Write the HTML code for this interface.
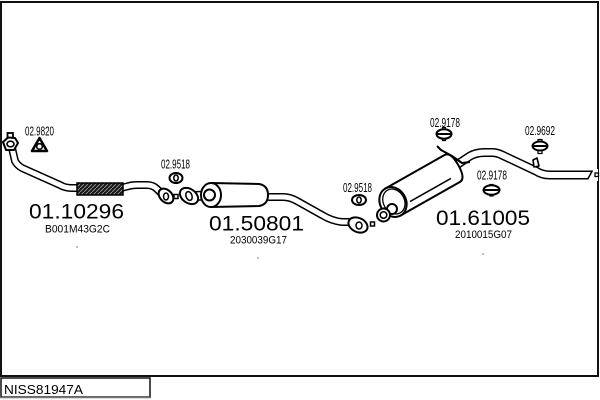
<!DOCTYPE html>
<html><head><meta charset="utf-8"><style>
html,body{margin:0;padding:0;background:#fff;}
svg{display:block;}
text{font-family:"Liberation Sans",Arial,sans-serif;fill:#000;}
</style></head><body>
<svg width="600" height="400" viewBox="0 0 600 400" xmlns="http://www.w3.org/2000/svg">
<defs>
<pattern id="flex" width="4" height="4" patternUnits="userSpaceOnUse">
<rect width="4" height="4" fill="#1a1a1a"/>
<path d="M0,4 L4,0" stroke="#9a9a9a" stroke-width="0.8"/>
</pattern>
</defs>

<!-- frame -->
<rect x="1" y="2" width="597" height="374" fill="none" stroke="#111" stroke-width="2"/>
<rect x="1" y="378" width="149" height="19" fill="#fff" stroke="#111" stroke-width="1.5"/>
<line x1="0" y1="397.5" x2="151" y2="397.5" stroke="#777" stroke-width="1.5"/>
<text x="4" y="394" font-size="13" textLength="79" lengthAdjust="spacingAndGlyphs">NISS81947A</text>

<g fill="none" stroke-linecap="butt" stroke-linejoin="round">
<!-- part 1 pipe -->
<path d="M12,148 L15,161 Q17,165 22,168 L60,185 Q65,188 72,188 L80,188" stroke="#000" stroke-width="8"/>
<path d="M12,148 L15,161 Q17,165 22,168 L60,185 Q65,188 72,188 L80,188" stroke="#fff" stroke-width="5"/>
<path d="M121,188 L131,185.5 Q134,185 138,185 L147,185 Q153,185 157,189 L164,196" stroke="#000" stroke-width="8"/>
<path d="M121,188 L131,185.5 Q134,185 138,185 L147,185 Q153,185 157,189 L164,196" stroke="#fff" stroke-width="5"/>
</g>
<rect x="77" y="183" width="46" height="12" fill="url(#flex)" stroke="#000" stroke-width="1.5"/>

<!-- part 1 left flange -->
<rect x="7.5" y="133" width="5.5" height="5" fill="#fff" stroke="#000" stroke-width="1.8"/>
<path d="M3,142 L8,137.5 L15,138 L18,143 L14,150 L6,150 Z" fill="#fff" stroke="#000" stroke-width="2" stroke-linejoin="round"/>
<ellipse cx="10.5" cy="144" rx="3.5" ry="2.8" fill="#fff" stroke="#000" stroke-width="1.6"/>

<!-- triangle gasket 02.9820 -->
<path d="M39.5,138 L47,151 L32,151 Z" fill="#fff" stroke="#000" stroke-width="2.5" stroke-linejoin="round"/>
<circle cx="39.5" cy="146.5" r="2.8" fill="#fff" stroke="#000" stroke-width="1.6"/>
<text x="25" y="135.5" font-size="12.5" textLength="29" lengthAdjust="spacingAndGlyphs">02.9820</text>

<!-- part 1 end flange -->
<ellipse cx="166" cy="196" rx="8.5" ry="6" transform="rotate(45 166 196)" fill="#fff" stroke="#000" stroke-width="2"/>
<ellipse cx="166" cy="196.5" rx="2.5" ry="3.5" fill="#fff" stroke="#000" stroke-width="1.5"/>
<rect x="174" y="194.5" width="4" height="4" fill="#fff" stroke="#000" stroke-width="1.5"/>

<!-- gasket 02.9518 (1) -->
<ellipse cx="176" cy="178" rx="6.5" ry="5" fill="#fff" stroke="#000" stroke-width="2"/>
<ellipse cx="176" cy="178" rx="2.2" ry="3" fill="#fff" stroke="#000" stroke-width="1.5"/>
<text x="161" y="168.5" font-size="12.5" textLength="29" lengthAdjust="spacingAndGlyphs">02.9518</text>

<!-- part 2 -->
<g fill="none">
<path d="M194,196 L207,195.5" stroke="#000" stroke-width="10"/>
<path d="M194,196 L207,195.5" stroke="#fff" stroke-width="7"/>
<path d="M262,197 L283,197 Q290,197 297,201 L322,215 Q332,221 342,222 L351,222" stroke="#000" stroke-width="8" stroke-linejoin="round"/>
<path d="M262,197 L283,197 Q290,197 297,201 L322,215 Q332,221 342,222 L351,222" stroke="#fff" stroke-width="5" stroke-linejoin="round"/>
</g>
<ellipse cx="189" cy="196" rx="10" ry="7" transform="rotate(35 189 196)" fill="#fff" stroke="#000" stroke-width="2"/>
<ellipse cx="189" cy="196" rx="3" ry="4.5" transform="rotate(-20 189 196)" fill="#fff" stroke="#000" stroke-width="1.5"/>
<path d="M211,183 L259,184 Q268,185.5 268,195 Q268,204.5 259,206 L211,207 Z" fill="#fff" stroke="#000" stroke-width="2"/>
<ellipse cx="211" cy="195" rx="10" ry="12" fill="#fff" stroke="#000" stroke-width="2"/>
<circle cx="209.5" cy="195" r="5.5" fill="#fff" stroke="#000" stroke-width="2"/>

<!-- part 2 end flange -->
<ellipse cx="358" cy="225" rx="10" ry="7" transform="rotate(25 358 225)" fill="#fff" stroke="#000" stroke-width="2"/>
<ellipse cx="359" cy="225.5" rx="3" ry="3.5" fill="#fff" stroke="#000" stroke-width="1.5"/>
<rect x="370.5" y="222" width="4" height="4" fill="#fff" stroke="#000" stroke-width="1.5"/>

<!-- gasket 02.9518 (2) -->
<ellipse cx="359" cy="200" rx="7" ry="5" fill="#fff" stroke="#000" stroke-width="2"/>
<ellipse cx="359" cy="200" rx="2.2" ry="3" fill="#fff" stroke="#000" stroke-width="1.5"/>
<text x="343" y="192" font-size="12.5" textLength="29" lengthAdjust="spacingAndGlyphs">02.9518</text>

<!-- part 3 tailpipe -->
<g fill="none" stroke-linejoin="round">
<path d="M452,168 L470,156 Q476,152.5 485,152.5 L492,152.5 Q497,152.5 502,155 L536,171 Q542,175 550,175 L592,175" stroke="#000" stroke-width="9"/>
<path d="M452,168 L470,156 Q476,152.5 485,152.5 L492,152.5 Q497,152.5 502,155 L536,171 Q542,175 550,175 L592,175" stroke="#fff" stroke-width="6"/>
</g>
<polygon points="587,181 594,169 598,169 598,181" fill="#fff"/>
<line x1="592.5" y1="170.5" x2="587.5" y2="179.5" stroke="#000" stroke-width="1.5"/>
<rect x="595" y="173" width="3.5" height="3.5" fill="#fff" stroke="#000" stroke-width="1.3"/>
<polygon points="533,160 537,158 539,166 534,167" fill="#fff" stroke="#000" stroke-width="1.6" stroke-linejoin="round"/>

<!-- part 3 muffler -->
<g transform="translate(393,202) rotate(-29.5)">
<path d="M0,-15.5 L68,-15.5 Q75,-15.5 75,0 Q75,15.5 68,15.5 L0,15.5 Z" fill="#fff" stroke="#000" stroke-width="2"/>
<line x1="15" y1="8" x2="62" y2="8" stroke="#000" stroke-width="1.5"/>
<ellipse cx="0" cy="0" rx="13" ry="15.5" fill="#fff" stroke="#000" stroke-width="2"/>
<ellipse cx="1" cy="0" rx="10.5" ry="13" fill="none" stroke="#000" stroke-width="1.3"/>
</g>
<polyline points="437,146 441,150 452,156 462,163 470,162" fill="none" stroke="#000" stroke-width="2" stroke-linejoin="round"/>
<circle cx="392" cy="209" r="5" fill="#fff" stroke="#000" stroke-width="2"/>
<circle cx="383.5" cy="215" r="6.5" fill="#fff" stroke="#000" stroke-width="2"/>
<circle cx="383.5" cy="215" r="3.3" fill="#fff" stroke="#000" stroke-width="1.5"/>

<!-- hangers -->
<g fill="#fff" stroke="#000" stroke-width="2">
<rect x="442.5" y="127.5" width="3" height="2.5" stroke-width="1.2"/>
<rect x="442.5" y="138" width="3" height="2.5" stroke-width="1.2"/>
<ellipse cx="444" cy="134" rx="7.5" ry="4.8"/>
<line x1="437" y1="134" x2="451" y2="134"/>

<rect x="490" y="184.5" width="3" height="2.5" stroke-width="1.2"/>
<rect x="490" y="193.5" width="3" height="2.5" stroke-width="1.2"/>
<ellipse cx="491.5" cy="190" rx="8" ry="4.8"/>
<line x1="484" y1="190" x2="499" y2="190"/>

<rect x="538" y="139.5" width="4" height="3" stroke-width="1.2"/>
<rect x="538" y="149.5" width="4" height="4" stroke-width="1.2"/>
<ellipse cx="540" cy="146" rx="7.5" ry="4.5"/>
<line x1="533" y1="146" x2="547" y2="146"/>
</g>
<text x="430" y="127" font-size="12.5" textLength="30" lengthAdjust="spacingAndGlyphs">02.9178</text>
<text x="477" y="179.5" font-size="12.5" textLength="30" lengthAdjust="spacingAndGlyphs">02.9178</text>
<text x="525" y="135" font-size="12.5" textLength="30" lengthAdjust="spacingAndGlyphs">02.9692</text>

<!-- part numbers -->
<text x="29" y="218.5" font-size="21" textLength="95" lengthAdjust="spacingAndGlyphs">01.10296</text>
<text x="45" y="232.5" font-size="11" textLength="65" lengthAdjust="spacingAndGlyphs">B001M43G2C</text>
<text x="209" y="230.5" font-size="21" textLength="95" lengthAdjust="spacingAndGlyphs">01.50801</text>
<text x="230" y="243.5" font-size="11" textLength="57" lengthAdjust="spacingAndGlyphs">2030039G17</text>
<text x="436" y="225" font-size="21" textLength="94" lengthAdjust="spacingAndGlyphs">01.61005</text>
<text x="455" y="238" font-size="11" textLength="57" lengthAdjust="spacingAndGlyphs">2010015G07</text>

<!-- dots -->
<rect x="76.5" y="246.5" width="1" height="1" fill="#000"/>
<rect x="257.5" y="257.5" width="1" height="1" fill="#000"/>
<rect x="482.5" y="253.5" width="1" height="1" fill="#000"/>
</svg>
</body></html>
